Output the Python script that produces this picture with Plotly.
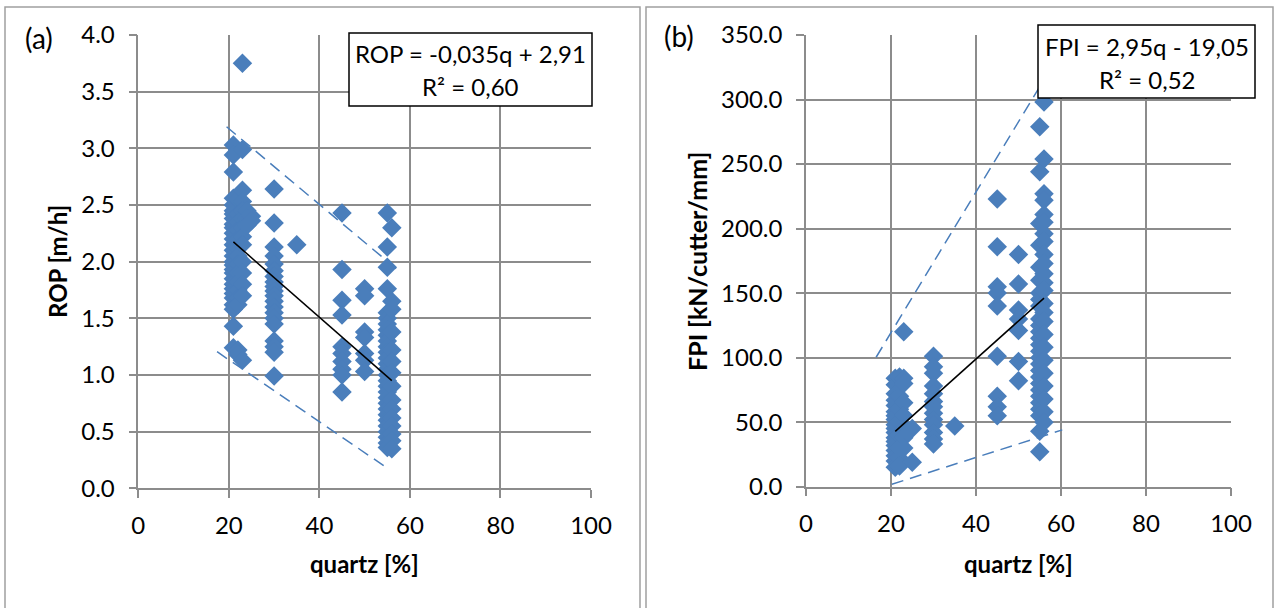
import plotly.graph_objects as go

W, H = 1281, 608

# ---------------- data: panel (a) ROP vs quartz ----------------
rop_q21 = [3.03, 2.94, 2.79, 2.56, 2.5, 2.45, 2.42, 2.38, 2.33, 2.3, 2.25, 2.2, 2.15, 2.1, 2.05,
           2.0, 1.97, 1.93, 1.9, 1.85, 1.8, 1.76, 1.72, 1.68, 1.62, 1.58, 1.43, 1.24]
rop_q22 = [2.55, 2.42, 2.35, 2.28, 2.2, 2.12, 2.05, 1.98, 1.9, 1.82, 1.75, 1.68, 1.62, 1.22, 1.18]
rop_q23 = [3.75, 2.99, 2.63, 2.53, 2.45, 2.38, 2.3, 2.22, 2.15, 2.0, 1.9, 1.8, 1.7, 1.13]
rop_q24 = [2.45, 2.38, 2.32]
rop_q25 = [2.4, 2.36]
rop_q30 = [2.64, 2.34, 2.13, 2.05, 1.98, 1.92, 1.87, 1.82, 1.78, 1.74, 1.7, 1.65, 1.6, 1.55,
           1.5, 1.45, 1.3, 1.25, 1.2, 0.99]
rop_q35 = [2.15]
rop_q45 = [2.43, 1.93, 1.66, 1.53, 1.25, 1.19, 1.12, 1.05, 1.0, 0.85]
rop_q50 = [1.76, 1.7, 1.38, 1.33, 1.19, 1.13, 1.03]
rop_q55 = [2.43, 2.13, 1.95, 1.76, 1.55, 1.5, 1.45, 1.4, 1.35, 1.3, 1.25, 1.2, 1.15, 1.1, 1.05,
           1.0, 0.95, 0.9, 0.85, 0.8, 0.75, 0.7, 0.65, 0.6, 0.55, 0.5, 0.45, 0.4, 0.36]
rop_q56 = [2.3, 1.65, 1.58, 1.38, 1.22, 1.12, 1.02, 0.9, 0.78, 0.7, 0.62, 0.55, 0.48, 0.42, 0.35]

rop_groups = {21: rop_q21, 22: rop_q22, 23: rop_q23, 24: rop_q24, 25: rop_q25, 30: rop_q30,
              35: rop_q35, 45: rop_q45, 50: rop_q50, 55: rop_q55, 56: rop_q56}

rop_trend_q = [21, 56]
rop_trend_v = [2.175, 0.95]
rop_upper_q = [19.5, 57.8]
rop_upper_v = [3.19, 1.91]
rop_lower_q = [17.4, 54.2]
rop_lower_v = [1.205, 0.20]

# ---------------- data: panel (b) FPI vs quartz ----------------
fpi_q21 = [84, 79, 72, 67, 63, 58, 55, 52, 48, 45, 42, 38, 35, 32, 28, 24, 20, 15]
fpi_q22 = [85, 70, 60, 50, 40, 30, 22, 16]
fpi_q23 = [120, 84, 80, 65, 55, 45, 38, 30]
fpi_q25 = [45, 19]
fpi_q30 = [101, 93, 88, 78, 72, 66, 62, 57, 52, 48, 42, 37, 33]
fpi_q35 = [47]
fpi_q45 = [223, 186, 155, 150, 140, 101, 70, 62, 55]
fpi_q50 = [180, 157, 137, 130, 121, 97, 82]
fpi_q55 = [279, 244, 204, 187, 170, 160, 150, 145, 140, 130, 125, 120, 115, 110, 105, 100, 95,
           90, 85, 80, 75, 70, 65, 60, 55, 43, 27]
fpi_q56 = [298, 254, 227, 222, 211, 205, 196, 190, 180, 173, 165, 158, 152, 142, 135, 128, 118,
           108, 98, 88, 78, 68, 58, 50]

fpi_groups = {21: fpi_q21, 22: fpi_q22, 23: fpi_q23, 25: fpi_q25, 30: fpi_q30, 35: fpi_q35,
              45: fpi_q45, 50: fpi_q50, 55: fpi_q55, 56: fpi_q56}

fpi_trend_q = [21, 56]
fpi_trend_v = [42.9, 146.15]
fpi_upper_q = [16.5, 55.0]
fpi_upper_v = [100.3, 310.0]
fpi_lower_q = [20.2, 60.3]
fpi_lower_v = [1.9, 44.0]

x_ticks = [0, 20, 40, 60, 80, 100]
rop_ticks = [0.0, 0.5, 1.0, 1.5, 2.0, 2.5, 3.0, 3.5, 4.0]
fpi_ticks = [0, 50, 100, 150, 200, 250, 300, 350]

# ---------------- styles ----------------
FONT = "Lato"
BLUE = "#4a7ebb"
GRID = "#8c8c8c"
BORDER = "#a0a0a0"


def flatten(groups):
    xs, ys = [], []
    for q, vals in groups.items():
        for v in vals:
            xs.append(q)
            ys.append(v)
    return xs, ys


def px(x):
    return x / W


def py(y):
    return 1 - y / H


fig = go.Figure()

for groups, xa, ya, tq, tv, uq, uv, lq, lv in [
    (rop_groups, "x", "y", rop_trend_q, rop_trend_v, rop_upper_q, rop_upper_v, rop_lower_q, rop_lower_v),
    (fpi_groups, "x2", "y2", fpi_trend_q, fpi_trend_v, fpi_upper_q, fpi_upper_v, fpi_lower_q, fpi_lower_v),
]:
    xs, ys = flatten(groups)
    fig.add_trace(go.Scatter(x=xs, y=ys, mode="markers", xaxis=xa, yaxis=ya,
                             marker=dict(symbol="diamond", size=15, color=BLUE,
                                         line=dict(width=0)),
                             showlegend=False, hoverinfo="skip"))
    for qq, vv in [(uq, uv), (lq, lv)]:
        fig.add_trace(go.Scatter(x=qq, y=vv, mode="lines", xaxis=xa, yaxis=ya,
                                 line=dict(color=BLUE, width=1.5, dash="12px,7px"),
                                 showlegend=False, hoverinfo="skip"))
    fig.add_trace(go.Scatter(x=tq, y=tv, mode="lines", xaxis=xa, yaxis=ya,
                             line=dict(color="black", width=1.5),
                             showlegend=False, hoverinfo="skip"))

axis_common = dict(showgrid=True, gridcolor=GRID, gridwidth=1.5, zeroline=False,
                   showline=True, linecolor=GRID, linewidth=1.5,
                   ticks="outside", ticklen=8, tickcolor=GRID, tickwidth=1.5,
                   tickfont=dict(family=FONT, size=24, color="black"),
                   automargin=False, fixedrange=True)

fig.update_layout(
    width=W, height=H,
    margin=dict(l=0, r=0, t=0, b=0, pad=0),
    paper_bgcolor="white", plot_bgcolor="white",
    showlegend=False,
    xaxis=dict(domain=[px(138.3), px(591)], range=[0, 100], tickvals=x_ticks,
               ticktext=[str(t) for t in x_ticks], anchor="y", ticklabelstandoff=7, **axis_common),
    yaxis=dict(domain=[py(488.3), py(35)], range=[0, 4], tickvals=rop_ticks,
               ticktext=[f"{t:.1f}" for t in rop_ticks], anchor="x", ticklabelstandoff=9, **axis_common),
    xaxis2=dict(domain=[px(806), px(1231)], range=[0, 100], tickvals=x_ticks,
                ticktext=[str(t) for t in x_ticks], anchor="y2", ticklabelstandoff=7, **axis_common),
    yaxis2=dict(domain=[py(486.7), py(35)], range=[0, 350], tickvals=fpi_ticks,
                ticktext=[f"{t:.1f}" for t in fpi_ticks], anchor="x2", ticklabelstandoff=9, **axis_common),
)

shapes = [
    # panel borders
    dict(type="rect", xref="paper", yref="paper", x0=px(5), x1=px(640), y0=py(620), y1=py(7),
         line=dict(color=BORDER, width=1.5), fillcolor="rgba(0,0,0,0)", layer="below"),
    dict(type="rect", xref="paper", yref="paper", x0=px(646), x1=px(1273), y0=py(620), y1=py(7),
         line=dict(color=BORDER, width=1.5), fillcolor="rgba(0,0,0,0)", layer="below"),
    # equation boxes
    dict(type="rect", xref="paper", yref="paper", x0=px(349), x1=px(592), y0=py(106), y1=py(33),
         line=dict(color="black", width=1.5), fillcolor="white", layer="above"),
    dict(type="rect", xref="paper", yref="paper", x0=px(1038), x1=px(1255), y0=py(98), y1=py(25),
         line=dict(color="black", width=1.5), fillcolor="white", layer="above"),
]
fig.update_layout(shapes=shapes)

txt = dict(family=FONT, size=24, color="black")
lab = dict(family=FONT, size=28, color="black")
bold = dict(family=FONT, size=24, color="black", weight="bold")
bold_fpi = dict(family=FONT, size=25, color="black", weight="bold")


def ann(text, x, y, font, angle=0):
    fig.add_annotation(text=text, xref="paper", yref="paper", x=px(x), y=py(y),
                       xanchor="center", yanchor="middle", showarrow=False, font=font,
                       textangle=angle)


ann("ROP = -0,035q + 2,91", 470.5, 54, txt)
ann("R² = 0,60", 470.5, 87, txt)
ann("FPI = 2,95q - 19,05", 1146.5, 47, txt)
ann("R² = 0,52", 1146.5, 80, txt)
ann("(a)", 39, 38, lab)
ann("(b)", 679, 36, lab)
ann("ROP [m/h]", 57, 262, bold, -90)
ann("FPI [kN/cutter/mm]", 697, 262, bold_fpi, -90)
ann("quartz [%]", 364.5, 563, bold)
ann("quartz [%]", 1018.5, 563, bold)

fig.write_html("out.html", config={"displayModeBar": False},
               post_script="document.body.style.margin='0';")
